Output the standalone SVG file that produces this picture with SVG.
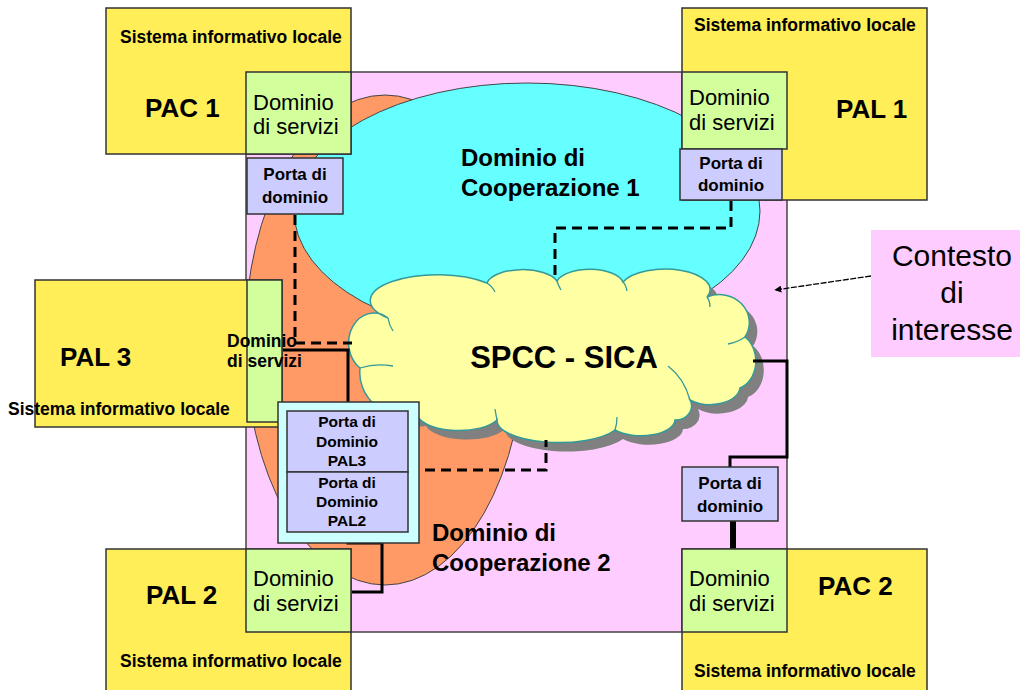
<svg xmlns="http://www.w3.org/2000/svg" width="1020" height="690" viewBox="0 0 1020 690">
<defs>
<style>
.t{font-family:"Liberation Sans",Arial,sans-serif;fill:#000}
.b{font-weight:bold}
.bx{stroke:#333;stroke-width:1.5}
.yel{fill:#FFEE58}
.grn{fill:#D2FF9C}
.prt{fill:#CCCCFF}
.solid{fill:none;stroke:#000;stroke-width:3}
.dash{fill:none;stroke:#000;stroke-width:3;stroke-dasharray:10 6}
.inner{fill:none;stroke:#339999;stroke-width:1.3}
</style>
<marker id="ah" viewBox="0 0 10 10" refX="9" refY="5" markerWidth="7" markerHeight="7" orient="auto-start-reverse" markerUnits="userSpaceOnUse">
<path d="M0,0 L10,5 L0,10 z" fill="#000"/>
</marker>
<path id="cloud" d="M 360,368 A 22,26 0 0 1 388,318 A 52,20 0 0 1 487,283 A 36,16 0 0 1 557,281 A 34,16 0 0 1 623,282 A 44,20 0 0 1 707,297 A 30,28 0 0 1 745,337 A 22,28 0 0 1 740,388 A 30,18 0 0 1 690,400 A 16,14 0 0 1 675,420 A 34,16 0 0 1 615,430 A 62,22 0 0 1 497,420 A 42,18 0 0 1 418,417 A 50,45 0 0 1 360,368 Z"/>
</defs>
<rect width="1020" height="690" fill="#fff"/>

<g id="contesto">
<rect x="246" y="72" width="541" height="560" fill="#FFCCFF" stroke="#444" stroke-width="1.5"/>
</g>

<g id="dominio-cooperazione-2">
<ellipse cx="385" cy="340" rx="140" ry="245" fill="#FF9966" stroke="#444" stroke-width="1"/>
<text class="t b" font-size="24" x="432" y="541">Dominio di</text>
<text class="t b" font-size="24" x="432" y="571">Cooperazione 2</text>
</g>

<g id="dominio-cooperazione-1">
<ellipse cx="527" cy="211" rx="233" ry="128" fill="#66FFFF" stroke="#444" stroke-width="1"/>
<text class="t b" font-size="24" x="461" y="166">Dominio di</text>
<text class="t b" font-size="24" x="461" y="196">Cooperazione 1</text>
</g>

<g id="spcc-sica">
<use href="#cloud" transform="translate(8,9)" fill="#808080"/>
<use href="#cloud" fill="#FFFFA3" stroke="#339999" stroke-width="1.5"/>
<path class="inner" d="M 388,318 Q 389,325 393,331"/>
<path class="inner" d="M 487,283 Q 492,286 495,292"/>
<path class="inner" d="M 557,281 Q 558,285 561,290"/>
<path class="inner" d="M 623,282 Q 626,285 627,291"/>
<path class="inner" d="M 707,297 Q 710,301 710,307"/>
<path class="inner" d="M 745,337 Q 738,342 728,344"/>
<path class="inner" d="M 690,400 Q 684,378 668,366"/>
<path class="inner" d="M 615,430 Q 617,424 617,417"/>
<path class="inner" d="M 497,420 Q 496,415 495,409"/>
<path class="inner" d="M 360,368 Q 376,363 393,366"/>
<path class="inner" d="M 418,417 Q 416,410 417,403"/>
<text class="t b" font-size="31" x="564" y="368" text-anchor="middle">SPCC - SICA</text>
</g>

<g id="connectors">
<polyline class="dash" points="295,215 295,343 352,343"/>
<polyline class="dash" points="731,201 731,228 555,228 555,280"/>
<polyline class="dash" points="409,470 546,470 546,440"/>
<polyline class="solid" points="283,350 348,350 348,402"/>
<polyline class="solid" points="348,533 348,543 382,543 382,592 352,592"/>
<polyline class="solid" points="753,361 787,361 787,457 730,457 730,467"/>
<line x1="733" y1="521" x2="733" y2="549" stroke="#000" stroke-width="6"/>
<line x1="871" y1="276" x2="775" y2="290" stroke="#000" stroke-width="1.3" stroke-dasharray="6 1.5" marker-end="url(#ah)"/>
</g>

<g id="contesto-label">
<rect x="871" y="230" width="149" height="127" fill="#FFCCFF"/>
<text class="t" font-size="30" x="952" y="266" text-anchor="middle">Contesto</text>
<text class="t" font-size="30" x="952" y="303" text-anchor="middle">di</text>
<text class="t" font-size="30" x="952" y="340" text-anchor="middle">interesse</text>
</g>

<g id="pac1">
<rect class="bx yel" x="106" y="8" width="245" height="146"/>
<text class="t b" font-size="17.5" x="120" y="43">Sistema informativo locale</text>
<text class="t b" font-size="26" x="145" y="117">PAC 1</text>
</g>
<g id="pac1-dominio-servizi">
<rect class="bx grn" x="246" y="72" width="105" height="82"/>
<text class="t" font-size="22" x="253" y="110">Dominio</text>
<text class="t" font-size="22" x="253" y="134">di servizi</text>
</g>
<g id="pac1-porta">
<rect class="bx prt" x="247" y="158" width="96" height="56"/>
<text class="t b" font-size="17" x="295" y="180" text-anchor="middle">Porta di</text>
<text class="t b" font-size="17" x="295" y="203" text-anchor="middle">dominio</text>
</g>

<g id="pal1">
<rect class="bx yel" x="682" y="8" width="245" height="192"/>
<text class="t b" font-size="17.5" x="694" y="31">Sistema informativo locale</text>
<text class="t b" font-size="26" x="836" y="118">PAL 1</text>
</g>
<g id="pal1-dominio-servizi">
<rect class="bx grn" x="682" y="72" width="105" height="77"/>
<text class="t" font-size="22" x="689" y="105">Dominio</text>
<text class="t" font-size="22" x="689" y="130">di servizi</text>
</g>
<g id="pal1-porta">
<rect class="bx prt" x="680" y="149" width="102" height="51"/>
<text class="t b" font-size="17" x="731" y="169" text-anchor="middle">Porta di</text>
<text class="t b" font-size="17" x="731" y="191" text-anchor="middle">dominio</text>
</g>

<g id="pal3">
<rect class="bx yel" x="35" y="280" width="247" height="147"/>
<text class="t b" font-size="26" x="60" y="366">PAL 3</text>
</g>
<g id="pal3-dominio-servizi">
<rect class="bx grn" x="247" y="280" width="35" height="142"/>
<text class="t b" font-size="17.5" x="227" y="347">Dominio</text>
<text class="t b" font-size="17.5" x="227" y="367">di servizi</text>
</g>
<text class="t b" font-size="17.5" x="8" y="415">Sistema informativo locale</text>

<g id="porte-pal3-pal2">
<rect x="278" y="402" width="141" height="141" fill="#CCFFFF" stroke="#333" stroke-width="1.5"/>
</g>
<g id="porta-pal3">
<rect class="bx prt" x="287" y="411" width="121" height="61"/>
<text class="t b" font-size="15.5" x="347" y="427" text-anchor="middle">Porta di</text>
<text class="t b" font-size="15.5" x="347" y="447" text-anchor="middle">Dominio</text>
<text class="t b" font-size="15.5" x="347" y="466" text-anchor="middle">PAL3</text>
</g>
<g id="porta-pal2">
<rect class="bx prt" x="287" y="472" width="121" height="60"/>
<text class="t b" font-size="15.5" x="347" y="488" text-anchor="middle">Porta di</text>
<text class="t b" font-size="15.5" x="347" y="507" text-anchor="middle">Dominio</text>
<text class="t b" font-size="15.5" x="347" y="526" text-anchor="middle">PAL2</text>
</g>

<g id="pal2">
<rect class="bx yel" x="106" y="549" width="245" height="150"/>
<text class="t b" font-size="26" x="146" y="604">PAL 2</text>
<text class="t b" font-size="17.5" x="120" y="667">Sistema informativo locale</text>
</g>
<g id="pal2-dominio-servizi">
<rect class="bx grn" x="246" y="549" width="105" height="83"/>
<text class="t" font-size="22" x="253" y="586">Dominio</text>
<text class="t" font-size="22" x="253" y="611">di servizi</text>
</g>

<g id="pac2">
<rect class="bx yel" x="682" y="549" width="245" height="150"/>
<text class="t b" font-size="26" x="818" y="595">PAC 2</text>
<text class="t b" font-size="17.5" x="694" y="677">Sistema informativo locale</text>
</g>
<g id="pac2-dominio-servizi">
<rect class="bx grn" x="682" y="549" width="105" height="83"/>
<text class="t" font-size="22" x="689" y="586">Dominio</text>
<text class="t" font-size="22" x="689" y="611">di servizi</text>
</g>
<g id="pac2-porta">
<rect class="bx prt" x="682" y="467" width="96" height="54"/>
<text class="t b" font-size="17" x="730" y="489" text-anchor="middle">Porta di</text>
<text class="t b" font-size="17" x="730" y="512" text-anchor="middle">dominio</text>
</g>
</svg>
